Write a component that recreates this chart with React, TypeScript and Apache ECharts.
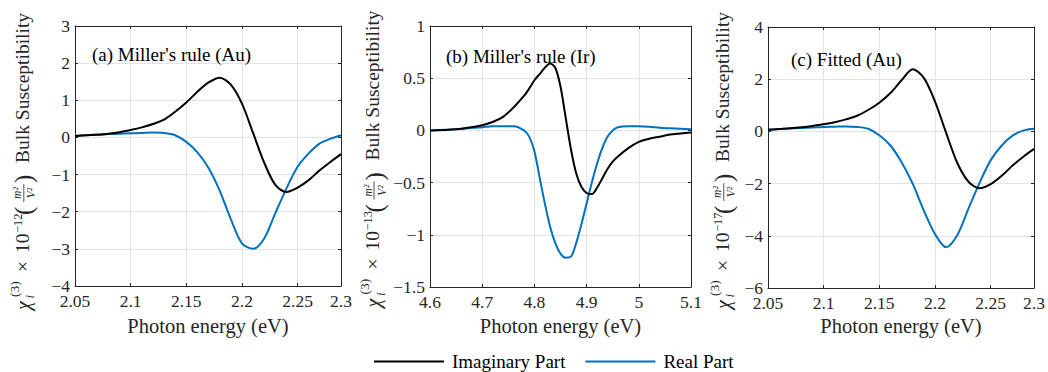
import React, { useEffect, useRef } from 'react';
import * as echarts from 'echarts';

// ---------- data ----------
const energyAu = [2.05, 2.06, 2.07, 2.08, 2.09, 2.10, 2.11, 2.12, 2.13, 2.14, 2.15, 2.16, 2.17, 2.18, 2.19, 2.20, 2.21, 2.22, 2.23, 2.24, 2.25, 2.26, 2.27, 2.28, 2.289];
const imagMillerAu = [0.04, 0.06, 0.07, 0.10, 0.14, 0.20, 0.27, 0.36, 0.48, 0.69, 0.94, 1.23, 1.48, 1.61, 1.42, 0.91, 0.12, -0.68, -1.28, -1.47, -1.35, -1.15, -0.88, -0.65, -0.45];
const realMillerAu = [0.04, 0.06, 0.08, 0.09, 0.10, 0.11, 0.12, 0.13, 0.12, 0.06, -0.12, -0.40, -0.82, -1.43, -2.20, -2.85, -3.00, -2.72, -2.04, -1.37, -0.79, -0.43, -0.16, -0.03, 0.06];

const energyIr = [4.6, 4.65, 4.7, 4.72, 4.74, 4.76, 4.78, 4.79, 4.80, 4.81, 4.82, 4.83, 4.84, 4.85, 4.86, 4.87, 4.88, 4.89, 4.90, 4.91, 4.92, 4.93, 4.94, 4.95, 4.96, 4.98, 5.0, 5.02, 5.04, 5.06, 5.08, 5.1];
const imagMillerIr = [0.0, 0.01, 0.05, 0.08, 0.13, 0.22, 0.33, 0.40, 0.48, 0.54, 0.60, 0.64, 0.60, 0.42, 0.12, -0.18, -0.41, -0.54, -0.60, -0.61, -0.55, -0.46, -0.37, -0.30, -0.25, -0.17, -0.11, -0.08, -0.06, -0.04, -0.03, -0.02];
const realMillerIr = [0.0, 0.01, 0.03, 0.04, 0.04, 0.04, 0.0, -0.06, -0.20, -0.45, -0.70, -0.92, -1.08, -1.18, -1.22, -1.21, -1.08, -0.90, -0.70, -0.50, -0.32, -0.17, -0.06, 0.0, 0.03, 0.04, 0.04, 0.035, 0.025, 0.02, 0.015, 0.01];

const imagFittedAu = [0.06, 0.09, 0.12, 0.16, 0.21, 0.27, 0.35, 0.46, 0.60, 0.82, 1.10, 1.47, 1.96, 2.38, 2.05, 1.15, -0.05, -1.20, -1.92, -2.18, -2.02, -1.70, -1.30, -0.95, -0.67];
const realFittedAu = [0.06, 0.09, 0.11, 0.13, 0.15, 0.17, 0.18, 0.19, 0.17, 0.10, -0.15, -0.54, -1.18, -2.00, -3.03, -3.93, -4.44, -3.98, -2.97, -1.98, -1.11, -0.54, -0.15, 0.04, 0.10];

const panelTitles = ["(a) Miller's rule (Au)", "(b) Miller's rule (Ir)", "(c) Fitted (Au)"];
const exponentLabels = ['−12', '−13', '−17'];
const seriesNames = ['Imaginary Part', 'Real Part'];
const xAxisTitle = 'Photon energy (eV)';
const yAxisWords = 'Bulk Susceptibility';

const FONT = 'Liberation Serif';
const INK = '#262626';
const CENTRAL = 0.3375; // central baseline offset of Liberation Serif (em)

const fmtY = (v: number) => (v < 0 ? '−' : '') + String(+Math.abs(v).toFixed(2));

// one piece of text placed on a common baseline (b = shift toward the axis)
function piece(u: number, text: string, f: number, b: number, italic = false, align = 'left') {
  return {
    type: 'text', x: u - 148.5, y: b - CENTRAL * f, silent: true,
    style: {
      text, fontFamily: FONT, fontSize: f, fontStyle: italic ? 'italic' : 'normal', fontWeight: 'normal', fill: INK,
      align, verticalAlign: 'middle', textAlign: align, textVerticalAlign: 'middle',
    },
  };
}

function yLabel(baseX: number, centerY: number, exp: string) {
  return {
    type: 'group', x: baseX, y: centerY, rotation: Math.PI / 2, silent: true,
    children: [
      piece(0, 'χ', 20, 0, true),
      piece(11.5, 'i', 13, 5, true),
      piece(13, '(3)', 13.5, -10),
      piece(38, '×', 19.5, 0),
      piece(57, '10', 19.5, 0),
      piece(77, exp, 12.5, -7),
      piece(95, '(', 25, 3),
      piece(117, 'm²', 11.5, -8, true, 'center'),
      { type: 'line', x: -148.5, silent: true, shape: { x1: 108, y1: -5.5, x2: 126, y2: -5.5 }, style: { stroke: INK, lineWidth: 0.8 } },
      piece(117, 'V²', 11.5, 6, true, 'center'),
      piece(127, ')', 25, 3),
      piece(147, yAxisWords, 19.5, 0),
    ],
  };
}

export default function App() {
  const ref = useRef<HTMLDivElement>(null);
  useEffect(() => {
    if (!ref.current) return;
    const chart = echarts.init(ref.current, null, { renderer: 'svg' });

    const panels = [
      { grid: { left: 75, top: 26, width: 266, height: 260 }, x: energyAu, imag: imagMillerAu, real: realMillerAu,
        xMin: 2.05, xMax: 2.289, xInt: 0.05, yMin: -4, yMax: 3, yInt: 1, titlePos: [92, 45], yName: [29.3, 161.5],
        fmtX: (v: number) => (v > 2.28 ? '2.3' : String(+v.toFixed(2))) },
      { grid: { left: 430, top: 26, width: 261, height: 261 }, x: energyIr, imag: imagMillerIr, real: realMillerIr,
        xMin: 4.6, xMax: 5.1, xInt: 0.1, yMin: -1.5, yMax: 1, yInt: 0.5, titlePos: [446, 46.5], yName: [379.5, 159],
        fmtX: (v: number) => String(+v.toFixed(1)) },
      { grid: { left: 768, top: 27, width: 266, height: 261 }, x: energyAu, imag: imagFittedAu, real: realFittedAu,
        xMin: 2.05, xMax: 2.289, xInt: 0.05, yMin: -6, yMax: 4, yInt: 2, titlePos: [791, 49.5], yName: [729.3, 160.5],
        fmtX: (v: number) => (v > 2.28 ? '2.3' : String(+v.toFixed(2))) },
    ];

    const grids: any[] = [];
    const xAxes: any[] = [];
    const yAxes: any[] = [];
    const series: any[] = [];
    const titles: any[] = [];
    const graphics: any[] = [];

    panels.forEach((p, i) => {
      grids.push({ ...p.grid, containLabel: false, outerBoundsMode: 'none' });
      const xBase = {
        type: 'value', gridIndex: i, min: p.xMin, max: p.xMax, interval: p.xInt,
        axisLine: { show: true, onZero: false, lineStyle: { color: INK, width: 1 } },
        axisTick: { show: true, inside: true, length: 3, lineStyle: { color: INK } },
      };
      xAxes.push({
        ...xBase, position: 'bottom',
        axisLabel: { show: true, formatter: p.fmtX, margin: 8, lineHeight: 14, fontFamily: FONT, fontSize: 17.5, fontWeight: 'normal', fontStyle: 'normal', color: INK },
        splitLine: { show: true, lineStyle: { color: '#e3e3e3', width: 1 } },
      });
      xAxes.push({ ...xBase, position: 'top', axisLabel: { show: false }, splitLine: { show: false } });
      const yBase = {
        type: 'value', gridIndex: i, min: p.yMin, max: p.yMax, interval: p.yInt,
        axisLine: { show: true, onZero: false, lineStyle: { color: INK, width: 1 } },
        axisTick: { show: true, inside: true, length: 3, lineStyle: { color: INK } },
      };
      yAxes.push({
        ...yBase, position: 'left',
        axisLabel: { show: true, formatter: fmtY, margin: 5, lineHeight: 14, fontFamily: FONT, fontSize: 17.5, fontWeight: 'normal', fontStyle: 'normal', color: INK },
        splitLine: { show: true, lineStyle: { color: '#e3e3e3', width: 1 } },
      });
      yAxes.push({ ...yBase, position: 'right', axisLabel: { show: false }, splitLine: { show: false } });

      series.push({
        name: seriesNames[0], type: 'line', xAxisIndex: 2 * i, yAxisIndex: 2 * i,
        data: p.x.map((e, k) => [e, p.imag[k]]), showSymbol: false, smooth: 0.3,
        lineStyle: { color: '#000000', width: 2 }, itemStyle: { color: '#000000' }, z: 3,
      });
      series.push({
        name: seriesNames[1], type: 'line', xAxisIndex: 2 * i, yAxisIndex: 2 * i,
        data: p.x.map((e, k) => [e, p.real[k]]), showSymbol: false, smooth: 0.3,
        lineStyle: { color: '#0072BD', width: 2 }, itemStyle: { color: '#0072BD' }, z: 2,
      });
      titles.push({
        text: panelTitles[i], left: p.titlePos[0], top: p.titlePos[1], padding: 0,
        textStyle: { fontFamily: FONT, fontSize: 19, fontWeight: 'normal', fontStyle: 'normal', color: '#000' },
      });
      // axis titles
      graphics.push({
        type: 'text', x: p.grid.left + p.grid.width / 2, y: 326, silent: true,
        style: {
          text: xAxisTitle, fontFamily: FONT, fontSize: 20.5, fontStyle: 'normal', fontWeight: 'normal', fill: INK,
          align: 'center', verticalAlign: 'middle', textAlign: 'center', textVerticalAlign: 'middle',
        },
      });
      graphics.push(yLabel(p.yName[0], p.yName[1], exponentLabels[i]));
    });

    chart.setOption({
      animation: false,
      backgroundColor: '#ffffff',
      textStyle: { fontFamily: FONT, fontWeight: 'normal', fontStyle: 'normal' },
      title: titles,
      grid: grids,
      xAxis: xAxes,
      yAxis: yAxes,
      series,
      graphic: graphics,
      legend: {
        data: seriesNames, left: 374, top: 352, icon: 'rect', itemWidth: 70, itemHeight: 2, itemGap: 20,
        padding: 0,
        textStyle: { fontFamily: FONT, fontSize: 19, fontWeight: 'normal', fontStyle: 'normal', color: '#000', padding: [0, 0, 0, 3] },
      },
    });
    return () => chart.dispose();
  }, []);
  return <div ref={ref} style={{ position: 'fixed', left: 0, top: 0, width: 1048, height: 372, background: '#fff' }} />;
}
